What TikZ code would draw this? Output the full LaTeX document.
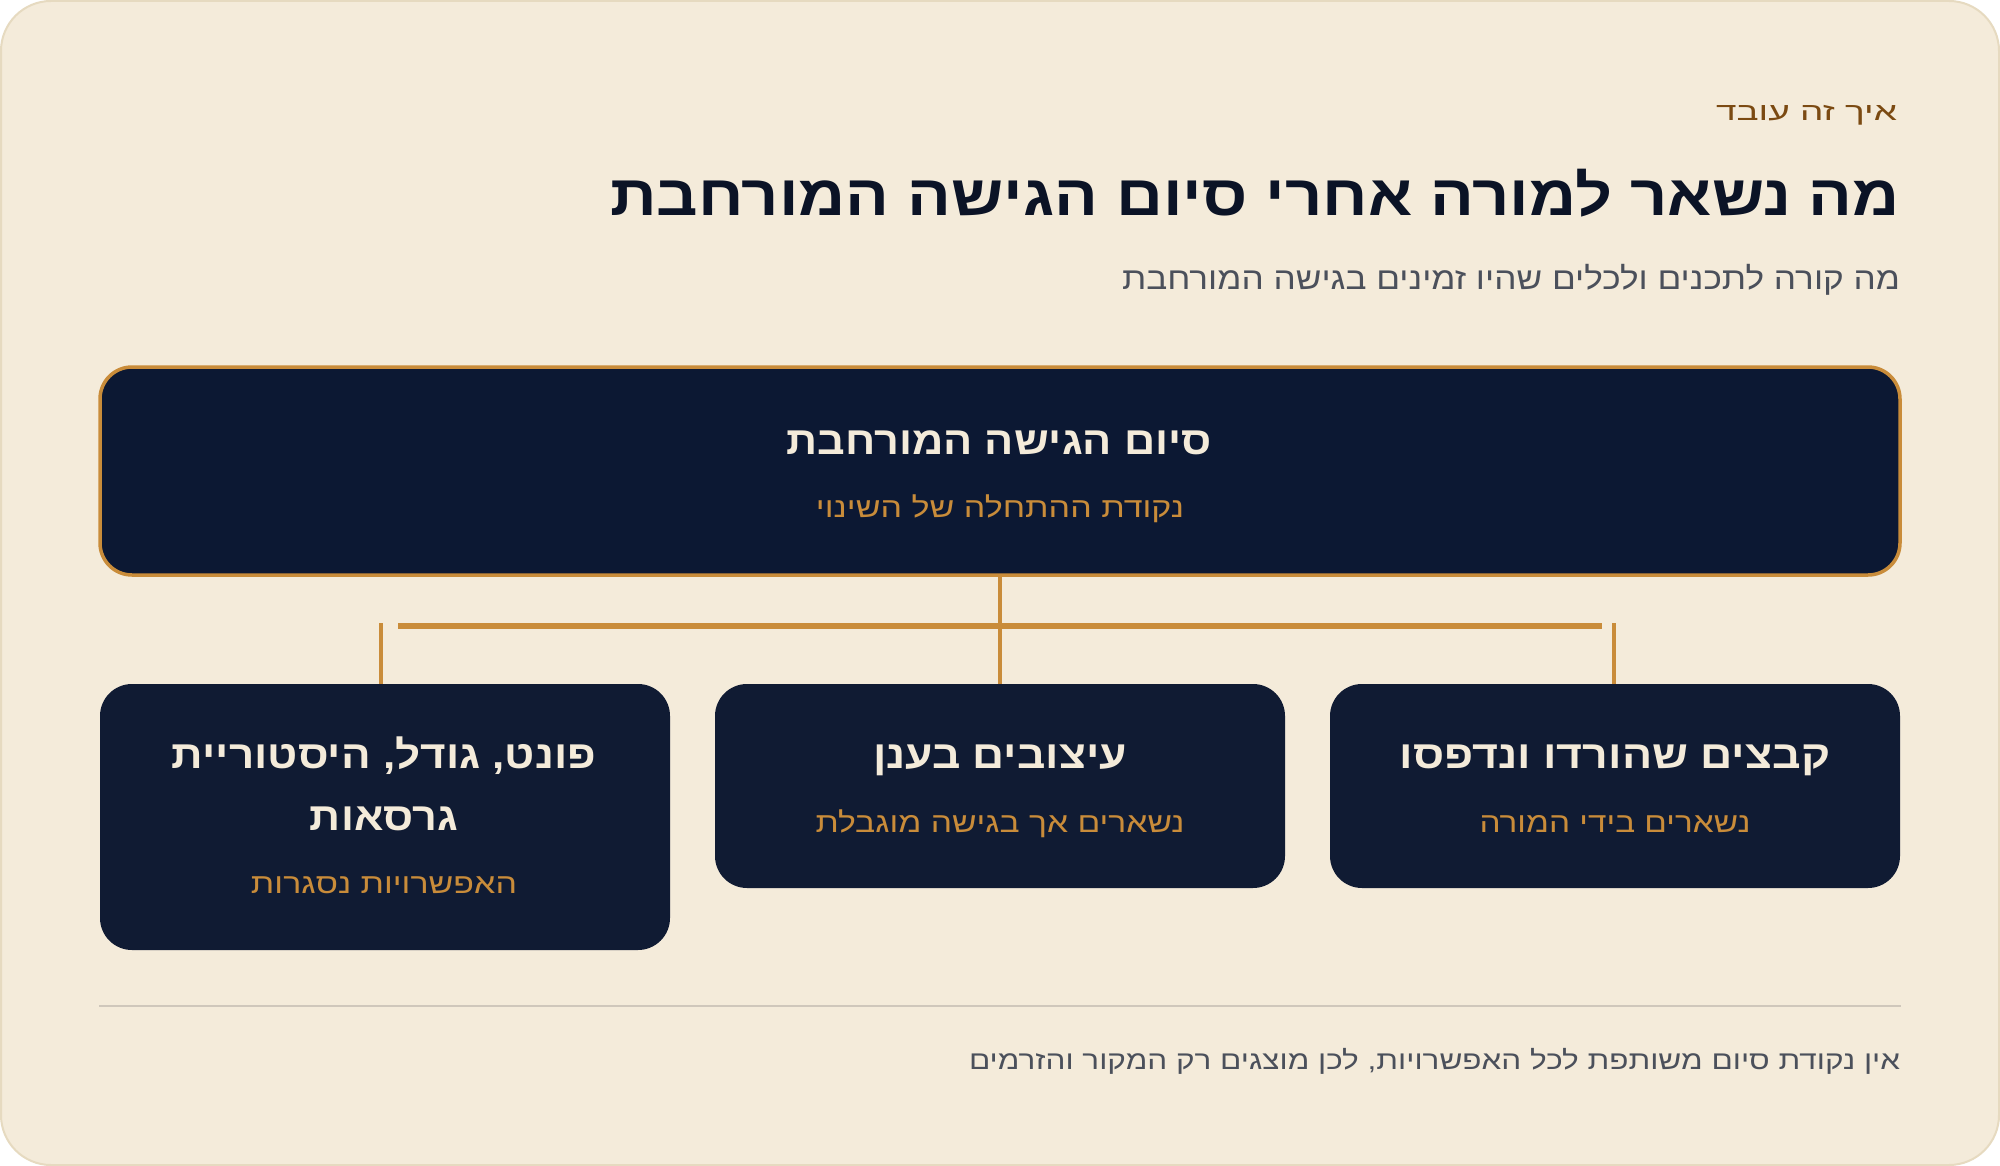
\documentclass[tikz,border=0pt]{standalone}
\usepackage{fontspec}
\usepackage{graphicx}
\TeXXeTstate=1
\newfontfamily\heb[Script=Hebrew]{Liberation Sans}
\definecolor{pagebg}{HTML}{FFFFFF}
\definecolor{cardbg}{HTML}{F4EBDA}
\definecolor{cardline}{HTML}{E6DAC0}
\definecolor{navy}{HTML}{0B1326}
\definecolor{kicker}{HTML}{7B4A12}
\definecolor{graytxt}{HTML}{4B505B}
\definecolor{gold}{HTML}{C98C3A}
\definecolor{cream}{HTML}{F4EBDA}
\definecolor{topfill}{HTML}{0C1833}
\definecolor{boxfill}{HTML}{101B33}
\definecolor{divider}{HTML}{CFC7BB}
\newcommand\rtlfit[2]{\resizebox{#1}{\height}{#2}}
\begin{document}
\begin{tikzpicture}[x=1pt,y=-1pt,
  txt/.style={inner sep=0pt, outer sep=0pt},
  topbox/.style={draw=gold, line width=3.5pt, fill=topfill, rounded corners=32pt,
    minimum width=1800pt, minimum height=208pt, inner sep=0pt, outer sep=0pt},
  childbox/.style={fill=boxfill, rounded corners=32pt, minimum width=570pt,
    inner sep=0pt, outer sep=0pt},
  conn/.style={draw=gold, line width=4pt},
  bar/.style={draw=gold, line width=6pt},
  boxtitle/.style={txt, text=cream, font=\heb\bfseries\fontsize{39}{44}\selectfont},
  boxsub/.style={txt, text=gold, font=\heb\fontsize{28}{32}\selectfont},
]
\useasboundingbox (0,0) rectangle (2000,1166);
\fill[pagebg] (0,0) rectangle (2000,1166);
\draw[draw=cardline, fill=cardbg, line width=2pt, rounded corners=50pt] (1,1) rectangle (1999,1165);

% header
\node[txt, anchor=base east, text=kicker, font=\heb\fontsize{25}{30}\selectfont] (kick) at (1897,121) {\rtlfit{181pt}{\beginR איך זה עובד\endR}};
\node[txt, anchor=base east, text=navy, font=\heb\bfseries\fontsize{57}{64}\selectfont] (title) at (1900,216) {\rtlfit{1290pt}{\beginR מה נשאר למורה אחרי סיום הגישה המורחבת\endR}};
\node[txt, anchor=base east, text=graytxt, font=\heb\fontsize{31}{36}\selectfont] (subtitle) at (1900,290) {\rtlfit{778pt}{\beginR מה קורה לתכנים ולכלים שהיו זמינים בגישה המורחבת\endR}};

% top box
\node[topbox] (top) at (1000,471) {};
\node[boxtitle, anchor=base] (toptitle) at (999,454) {\rtlfit{425pt}{\beginR סיום הגישה המורחבת\endR}};
\node[boxsub, anchor=base] (topsub) at (1000,517) {\rtlfit{368pt}{\beginR נקודת ההתחלה של השינוי\endR}};

% child boxes
\node[childbox, minimum height=266pt] (left) at (385,817) {};
\node[childbox, minimum height=204pt] (mid) at (1000,786) {};
\node[childbox, minimum height=204pt] (right) at (1615,786) {};

\node[boxtitle, anchor=base] (rt) at (1615,768) {\rtlfit{431pt}{\beginR קבצים שהורדו ונדפסו\endR}};
\node[boxsub, anchor=base] (rs) at (1615,832) {\rtlfit{271pt}{\beginR נשארים בידי המורה\endR}};

\node[boxtitle, anchor=base] (mt) at (1000,768) {\rtlfit{254pt}{\beginR עיצובים בענן\endR}};
\node[boxsub, anchor=base] (ms) at (1000,832) {\rtlfit{369pt}{\beginR נשארים אך בגישה מוגבלת\endR}};

\node[boxtitle, anchor=base] (lt1) at (384,768) {\rtlfit{424pt}{\beginR פונט, גודל, היסטוריית\endR}};
\node[boxtitle, anchor=base] (lt2) at (384,830) {\rtlfit{148pt}{\beginR גרסאות\endR}};
\node[boxsub, anchor=base] (ls) at (384,893) {\rtlfit{266pt}{\beginR האפשרויות נסגרות\endR}};

% connectors
\coordinate (barL) at (398,626);
\coordinate (barR) at (1602,626);
\coordinate (lTop) at (381,623);
\coordinate (rTop) at (1614,623);
\draw[conn] (top.south) -- (mid.north);
\draw[bar] (barL) -- (barR);
\draw[conn] (lTop) -- (lTop |- left.north);
\draw[conn] (rTop) -- (rTop |- right.north);

% footer
\coordinate (divL) at (99,1006);
\coordinate (divR) at (1901,1006);
\draw[draw=divider, line width=2pt] (divL) -- (divR);
\node[txt, anchor=base east, text=graytxt, font=\heb\fontsize{26}{30}\selectfont] (foot) at (1900,1069) {\rtlfit{931pt}{\beginR אין נקודת סיום משותפת לכל האפשרויות, לכן מוצגים רק המקור והזרמים\endR}};
\end{tikzpicture}
\end{document}
